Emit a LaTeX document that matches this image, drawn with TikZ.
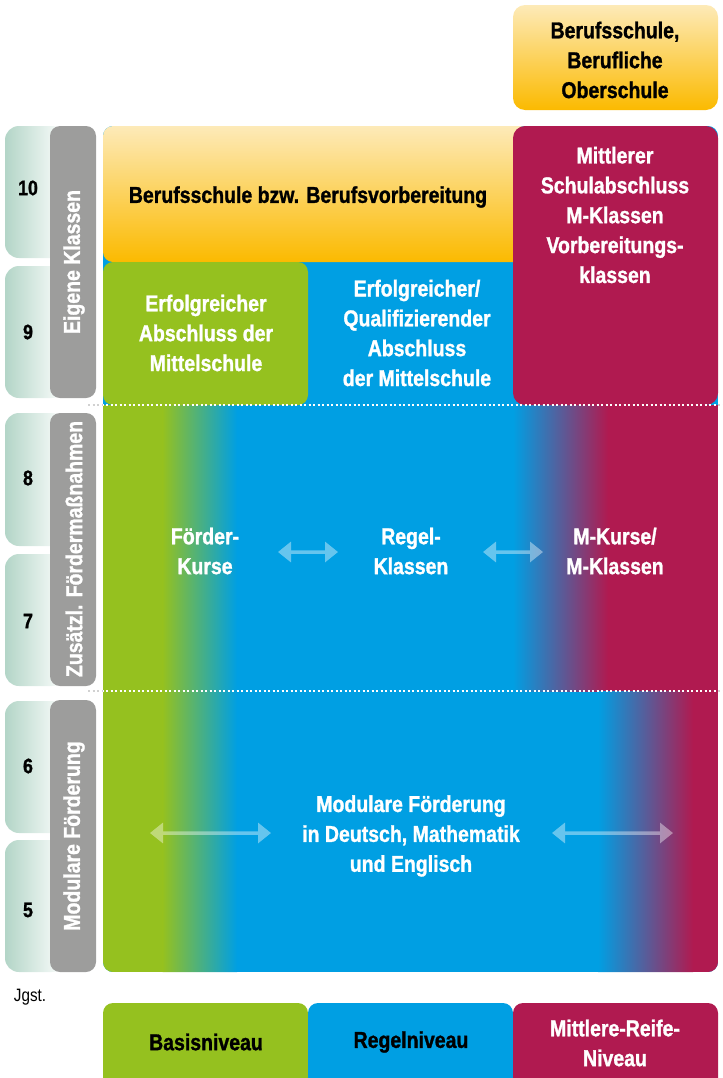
\documentclass[tikz,border=0pt]{standalone}
\usepackage{fontspec}
\setmainfont{Liberation Sans}[FakeStretch=0.85, BoldFeatures={FakeBold=1.2}]
\usetikzlibrary{arrows.meta}
\definecolor{cgreen}{HTML}{95C11F}
\definecolor{cblue}{HTML}{009FE3}
\definecolor{cmag}{HTML}{B01A50}
\definecolor{cgray}{HTML}{9D9D9C}
\definecolor{corange}{HTML}{FBBA00}
\definecolor{corangemid}{HTML}{FCCF4A}
\definecolor{corangelt}{HTML}{FDEAB8}
\definecolor{cteal}{HTML}{B3D5C7}
\begin{document}
\begin{tikzpicture}[x=1bp,y=-1bp,
  lbl/.style={font=\fontsize{23}{30}\selectfont\bfseries, align=center, text=white, inner sep=0pt},
  lblk/.style={lbl, text=black},
  grade/.style={font=\fontsize{21}{24}\selectfont\bfseries, inner sep=0pt},
  gradebox/.style={rounded corners=14bp, left color=cteal, right color=white},
  sidebox/.style={rounded corners=10bp, fill=cgray},
  sidelbl/.style={font=\fontsize{23}{26}\selectfont\bfseries, text=white, rotate=90, inner sep=0pt},
  orangebox/.style={rounded corners=10bp, top color=corangelt, middle color=corangemid, bottom color=corange},
  dbl/.style={draw=white, line width=3.5bp, {Triangle[width=20bp,length=13bp]}-{Triangle[width=20bp,length=13bp]}},
  dots/.style={line width=2bp, dash pattern=on 2bp off 2.5bp},
]
\useasboundingbox (0,0) rectangle (723,1078);
\clip (0,0) rectangle (723,1078);

% grade boxes
\path[gradebox] (5,126) rectangle (66,258);
\path[gradebox] (5,266) rectangle (66,398);
\path[gradebox] (5,413) rectangle (66,546);
\path[gradebox] (5,554) rectangle (66,686);
\path[gradebox] (5,701) rectangle (66,833);
\path[gradebox] (5,840) rectangle (66,972);
\node[grade] (g10) at (28,188) {10};
\node[grade] (g9) at (28,332) {9};
\node[grade] (g8) at (28,478) {8};
\node[grade] (g7) at (28,621) {7};
\node[grade] (g6) at (28,766) {6};
\node[grade] (g5) at (28,910) {5};

% side boxes
\path[sidebox] (50,126) rectangle (96,398);
\path[sidebox] (50,413) rectangle (96,686);
\path[sidebox] (50,700) rectangle (96,972);
\node[sidelbl] (s1) at (74,262) {Eigene Klassen};
\node[sidelbl] (s2) at (74,549) {Zusätzl. Fördermaßnahmen};
\node[sidelbl] (s3) at (74,836) {Modulare Förderung};

% main block
\begin{scope}
\clip[rounded corners=10bp] (103,126) rectangle (718,972);
\fill[cblue] (103,126) rectangle (718,972);
\fill[cgreen] (103,405) rectangle (163,972);
\shade[left color=cgreen, right color=cblue] (162.5,405) rectangle (237,972);
\shade[left color=cblue, right color=cmag] (513,405) rectangle (608,691);
\fill[cmag] (607.5,405) rectangle (718,691);
\shade[left color=cblue, right color=cmag] (598,691) rectangle (693,972);
\fill[cmag] (692.5,691) rectangle (718,972);
\end{scope}
\shade[orangebox] (103,126) rectangle (530,262);
\fill[cgreen, rounded corners=10bp] (103,262) rectangle (308,405);
\fill[cmag, rounded corners=12bp] (513,126) rectangle (718,405);

% dotted separators
\coordinate (d1a) at (88,405); \coordinate (d1b) at (723,405);
\coordinate (d2a) at (88,691); \coordinate (d2b) at (723,691);
\draw[dots, draw=black!18] (d1a) -- (d1b);
\draw[dots, draw=black!18] (d2a) -- (d2b);
\begin{scope}
\clip (103,0) rectangle (718,1078);
\draw[dots, white] (d1a) -- (d1b);
\draw[dots, white] (d2a) -- (d2b);
\end{scope}

% top right box
\shade[orangebox, rounded corners=12bp] (513,5) rectangle (718,110);
\node[lblk] (bos) at (615,60) {Berufsschule,\\Berufliche\\Oberschule};

% labels in main block
\node[lblk] (bv) at (308,197) {Berufsschule bzw. Berufsvorbereitung};
\node[lbl] (msa) at (615,215) {Mittlerer\\Schulabschluss\\M-Klassen\\Vorbereitungs-\\klassen};
\node[lbl] (eam) at (206,333) {Erfolgreicher\\Abschluss der\\Mittelschule};
\node[lbl] (eqa) at (417,333) {Erfolgreicher/\\Qualifizierender\\Abschluss\\der Mittelschule};
\node[lbl] (fk) at (205,551) {Förder-\\Kurse};
\node[lbl] (rk) at (411,551) {Regel-\\Klassen};
\node[lbl] (mk) at (615,551) {M-Kurse/\\M-Klassen};
\node[lbl] (mf) at (411,836) {Modulare Förderung\\in Deutsch, Mathematik\\und Englisch};

% arrows
\coordinate (a1s) at (278,552); \coordinate (a1e) at (338,552);
\coordinate (a2s) at (483,552); \coordinate (a2e) at (543,552);
\coordinate (a3s) at (150,833); \coordinate (a3e) at (271,833);
\coordinate (a4s) at (552,833); \coordinate (a4e) at (673,833);
\begin{scope}[transparency group, opacity=0.4]
\draw[dbl] (a1s) -- (a1e);
\draw[dbl] (a2s) -- (a2e);
\draw[dbl] (a3s) -- (a3e);
\draw[dbl] (a4s) -- (a4e);
\end{scope}

% bottom level boxes
\fill[cgreen, rounded corners=10bp] (103,1003) rectangle (308,1095);
\fill[cblue, rounded corners=10bp] (308,1003) rectangle (513,1095);
\fill[cmag, rounded corners=10bp] (513,1003) rectangle (718,1095);
\node[lblk] (bn) at (206,1042) {Basisniveau};
\node[lblk] (rn) at (411,1042) {Regelniveau};
\node[lbl] (mrn) at (615,1043) {Mittlere-Reife-\\Niveau};

\node[font=\fontsize{18}{20}\selectfont, inner sep=0pt] (jg) at (30,997) {Jgst.};
\end{tikzpicture}
\end{document}
